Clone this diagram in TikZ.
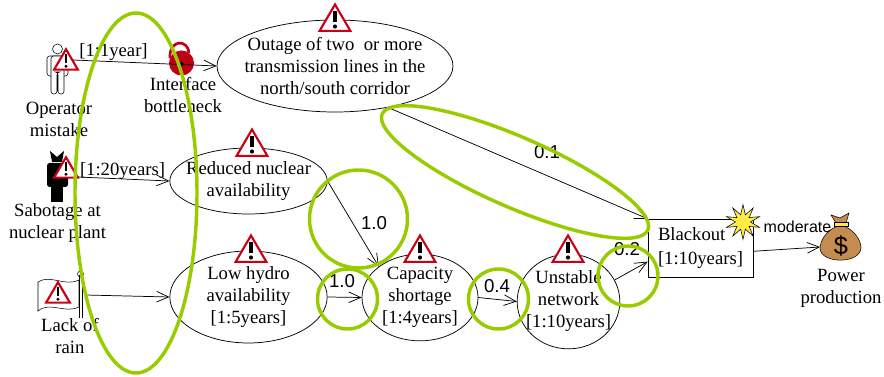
\documentclass[tikz,border=0pt]{standalone}
\usepackage{fontspec}
\setmainfont{Liberation Serif}
\newfontfamily\labelfont{Liberation Sans}
\usetikzlibrary{arrows.meta,shapes.geometric}

\definecolor{ringgreen}{RGB}{153,204,0}
\definecolor{warnred}{RGB}{204,0,20}
\definecolor{lockred}{RGB}{190,0,20}
\definecolor{bagbrown}{RGB}{196,140,80}
\definecolor{burst}{RGB}{255,235,70}

\tikzset{
    event/.style={draw,ellipse,line width=0.55pt,inner sep=-20pt,align=center,font=\fontsize{14}{16.5}\selectfont},
    caption/.style={align=center,font=\fontsize{14}{16.5}\selectfont},
    freq/.style={font=\fontsize{14}{16}\selectfont},
    prob/.style={font=\labelfont\fontsize{14}{16}\selectfont},
    link/.style={-{Straight Barb[length=9pt,width=8pt]},line width=0.55pt},
    mark ring/.style={draw=ringgreen,line width=2.6pt},
}

\newcommand{\warnsign}[3]{%
    \begin{scope}[shift={(#1,#2)},scale=#3]
        \draw [warnred,fill=white,line width=1.6pt,line join=miter] (-14,9) -- (0,-15) -- (14,9) -- cycle;
        \fill (-1.7,-9) rectangle (1.7,1);
        \fill (0,5) circle (1.9);
    \end{scope}
}

\begin{document}
\begin{tikzpicture}[x=0.75pt,y=-0.75pt]
    \useasboundingbox (0,0) rectangle (884,377);

    % events
    \node [event,minimum width=177pt,minimum height=69pt] (outage) at (335,66) {Outage of two\ \ or more\\transmission lines in the\\north/south corridor};
    \node [event,minimum width=118pt,minimum height=49.5pt] (reduced) at (248.5,181) {Reduced nuclear\\availability};
    \node [event,minimum width=118pt,minimum height=69pt] (hydro) at (248.5,297) {Low hydro\\availability\\{[1:5years]}};
    \node [event,minimum width=87pt,minimum height=65pt] (capacity) at (420,297.5) {Capacity\\shortage\\{[1:4years]}};
    \node [event,minimum width=77pt,minimum height=71pt] (unstable) at (568.5,301.5) {Unstable\\network\\{[1:10years]}};
    \node [draw,rectangle,line width=0.55pt,minimum width=78.75pt,minimum height=44pt,align=left,font=\fontsize{14}{18}\selectfont] (blackout) at (700.5,248.5) {Blackout\\{[1:10years]}\hspace{5pt}};

    % operator
    \draw (57.5,49) circle (5);
    \draw [rounded corners=2pt,fill=white] (47,56) rectangle (68,76);
    \draw [rounded corners=2pt,fill=white] (51,56) -- (51,94) -- (57,94) -- (57,72) -- (58,72) -- (58,94) -- (64,94) -- (64,56) -- cycle;

    % saboteur
    \fill (57,157) -- (50,151) -- (52,162) -- (62,162) -- (64,151) -- cycle;
    \fill [rounded corners=2pt] (47,163) rectangle (68,187);
    \fill (51,180) rectangle (63,202);

    % flag
    \draw [fill=white] (38,282) .. controls (50,274) and (65,287) .. (79,280) -- (79,307) .. controls (65,314) and (50,301) .. (38,311) -- cycle;
    \draw (79,275) -- (79,318) (82,275) -- (82,318);
    \draw (80.5,274) circle (3);

    % lock
    \draw [lockred,line width=2pt] (170,58) .. controls (169,39) and (188,39) .. (189,53);
    \fill [lockred] (181.5,63) circle (12.5);
    \fill [black] (181.5,64) circle (2);

    % burst and money bag
    \node [star,star points=10,star point ratio=2.3,draw,fill=burst,minimum size=26pt,inner sep=0pt] (spark) at (743,222) {};
    \draw [fill=bagbrown] (841,225) .. controls (826,229) and (820,241) .. (820,249) .. controls (822,264) and (860,264) .. (861,248) .. controls (861,240) and (854,229) .. (841,225) -- cycle;
    \draw [fill=bagbrown] (836,223) -- (831,215) -- (840,218) -- (849,213) -- (846,223) -- cycle;
    \draw [fill=burst] (834,222) rectangle (848,226);
    \node [font=\labelfont\fontsize{19}{19}\selectfont,inner sep=0pt] (dollar) at (841,246) {\$};
    \coordinate (bag) at (820,247);

    \node [caption] (opcap) at (59,119) {Operator\\mistake};
    \node [caption] (lockcap) at (183,95) {Interface\\bottleneck};
    \node [caption] (sabcap) at (57.5,223) {Sabotage at\\nuclear plant};
    \node [caption] (raincap) at (70,336) {Lack of\\rain};
    \node [caption] (powercap) at (841,288) {Power\\production};

    % warning signs
    \foreach \x/\y/\s in {66/62/0.85,66/170/0.85,58/295/0.85,335/21/1.1,252/146/1.1,251/252/1.1,420/252/1.1,568/252/1.1}{%
        \warnsign{\x}{\y}{\s}
    }

    \coordinate (opout) at (73,60);
    \coordinate (sabout) at (78,177);
    \coordinate (rainout) at (85,295);

    % connectors
    \draw [link] (opout) -- (outage.west);
    \draw [link] (sabout) -- (reduced.west);
    \draw [link] (rainout) -- (hydro.west);
    \draw [link] (reduced.east) -- (capacity.north west);
    \draw [link] (hydro.east) -- (capacity.west);
    \draw [link] (capacity.east) -- (unstable.west);
    \draw [link] (unstable.25) -- (blackout.-166);
    \draw [link] (outage.-38) -- (blackout.north west);
    \draw [link] (blackout.-3) -- (bag);

    \node [freq] (opfreq) at (113.5,52) {[1:1year]};
    \node [freq] (sabfreq) at (122.5,171) {[1:20years]};
    \node [prob] (pa) at (547,152) {0.1};
    \node [prob] (pb) at (374,223) {1.0};
    \node [prob] (pc) at (342,281) {1.0};
    \node [prob] (pd) at (497,286) {0.4};
    \node [prob] (pe) at (627,249) {0.2};
    \node [prob,font=\labelfont\fontsize{12}{14}\selectfont] (pf) at (797.5,227) {moderate};

    % rings
    \draw [mark ring] (136,193) ellipse (61 and 180);
    \draw [mark ring,rotate around={-23.6:(515,172)}] (515,172) ellipse (145 and 35);
    \draw [mark ring] (358.5,219) circle (49);
    \draw [mark ring] (347.5,299) circle (30);
    \draw [mark ring] (498.5,299) circle (30);
    \draw [mark ring] (628,276) circle (30);
\end{tikzpicture}
\end{document}
